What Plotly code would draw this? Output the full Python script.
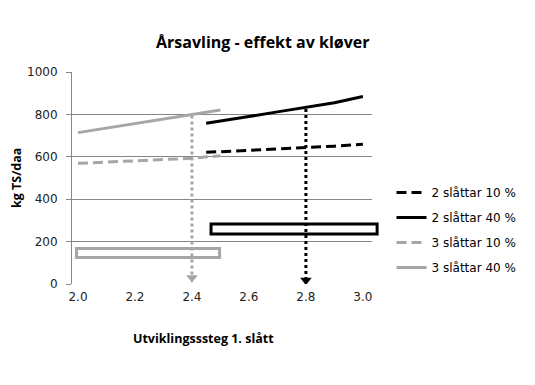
import plotly.graph_objects as go

# ---- data ----
x_3sl = [2.0, 2.1, 2.2, 2.3, 2.4, 2.5]
y_3sl_10 = [569, 575, 581, 587, 593, 605]
y_3sl_40 = [714, 736, 757, 778, 800, 821]

x_2sl = [2.45, 2.5, 2.6, 2.7, 2.8, 2.9, 3.0]
y_2sl_10 = [621, 624, 630, 635, 641, 650, 659]
y_2sl_40 = [758, 768, 790, 812, 834, 855, 884]

names = ["2 slåttar 10 %", "2 slåttar 40 %", "3 slåttar 10 %", "3 slåttar 40 %"]

# arrows (x position, top value, bottom value)
arrow_gray = dict(x=2.4, top=795, bottom=30)
arrow_black = dict(x=2.8, top=825, bottom=18)

# boxes (x0, x1, y0, y1)
box_gray = [1.995, 2.497, 125, 168]
box_black = [2.467, 3.05, 236, 283]

title = "Årsavling - effekt av kløver"
x_title = "Utviklingsssteg 1. slått"
y_title = "kg TS/daa"
x_ticks = [2.0, 2.2, 2.4, 2.6, 2.8, 3.0]
x_ticklabels = ["2.0", "2.2", "2.4", "2.6", "2.8", "3.0"]
y_ticks = [0, 200, 400, 600, 800, 1000]

FONT = "DejaVu Sans"
TFONT = "Open Sans"
BLACK = "#000000"
GRAY = "#a6a6a6"
GRID = "#868686"
XR = [1.979, 3.032]

fig = go.Figure()

series = [
    (x_2sl, y_2sl_10, BLACK, "10px,5px", names[0]),
    (x_2sl, y_2sl_40, BLACK, "solid", names[1]),
    (x_3sl, y_3sl_10, GRAY, "10px,5px", names[2]),
    (x_3sl, y_3sl_40, GRAY, "solid", names[3]),
]
for i, (xs, ys, col, dash, nm) in enumerate(series):
    fig.add_trace(go.Scatter(
        x=xs, y=ys, mode="lines", name=nm, legendgroup=f"g{i}",
        line=dict(color=col, width=3, dash=dash),
    ))

for arr, col in [(arrow_gray, GRAY), (arrow_black, BLACK)]:
    fig.add_trace(go.Scatter(
        x=[arr["x"], arr["x"]], y=[arr["top"], arr["bottom"]],
        mode="lines", line=dict(color=col, width=3, dash="dot"),
        showlegend=False, hoverinfo="skip",
    ))
    fig.add_trace(go.Scatter(
        x=[arr["x"]], y=[arr["bottom"]], mode="markers",
        marker=dict(symbol="triangle-down", size=10, color=col),
        showlegend=False, hoverinfo="skip",
    ))


def px(v):
    return (v - XR[0]) / (XR[1] - XR[0])


for b, col in [(box_gray, GRAY), (box_black, BLACK)]:
    fig.add_shape(type="rect", xref="paper", yref="y",
                  x0=px(b[0]), x1=px(b[1]), y0=b[2], y1=b[3],
                  line=dict(color=col, width=3), fillcolor="rgba(0,0,0,0)",
                  layer="above")

fig.update_layout(
    width=535, height=385,
    margin=dict(l=72, r=163, t=72, b=101),
    paper_bgcolor="white", plot_bgcolor="white",
    font=dict(family=FONT, size=12, color="#000000"),
    showlegend=True,
    legend=dict(x=1.065, y=0.50, xanchor="left", yanchor="top",
                font=dict(family=FONT, size=12), tracegroupgap=6,
                bgcolor="rgba(0,0,0,0)"),
    xaxis=dict(range=XR, tickvals=x_ticks, ticktext=x_ticklabels,
               showgrid=False, zeroline=False, showline=False,
               ticks="", ticklabelstandoff=4,
               tickfont=dict(size=12, color="#222222")),
    yaxis=dict(range=[0, 1000], tickvals=y_ticks, showgrid=True,
               gridcolor=GRID, gridwidth=1, zeroline=False,
               showline=True, linecolor=GRID, linewidth=1,
               ticks="outside", ticklen=5, tickcolor=GRID,
               ticklabelstandoff=6,
               tickfont=dict(size=12, color="#222222")),
    annotations=[
        dict(text=f"<b>{title}</b>", x=(263 - 72) / 300, y=(284 - 42) / 212,
             xref="paper", yref="paper", xanchor="center", yanchor="middle",
             showarrow=False, font=dict(family=TFONT, size=16)),
        dict(text=f"<b>{x_title}</b>", x=(203 - 72) / 300, y=(284 - 338) / 212,
             xref="paper", yref="paper", xanchor="center", yanchor="middle",
             showarrow=False, font=dict(family=TFONT, size=12.5)),
        dict(text=f"<b>{y_title}</b>", x=(16 - 72) / 300, y=(284 - 178) / 212,
             xref="paper", yref="paper", xanchor="center", yanchor="middle",
             showarrow=False, textangle=-90, font=dict(family=TFONT, size=12.5)),
    ],
)
fig.write_html("out.html", config={"displayModeBar": False},
               post_script="document.body.style.margin='0';document.body.style.padding='0';")
